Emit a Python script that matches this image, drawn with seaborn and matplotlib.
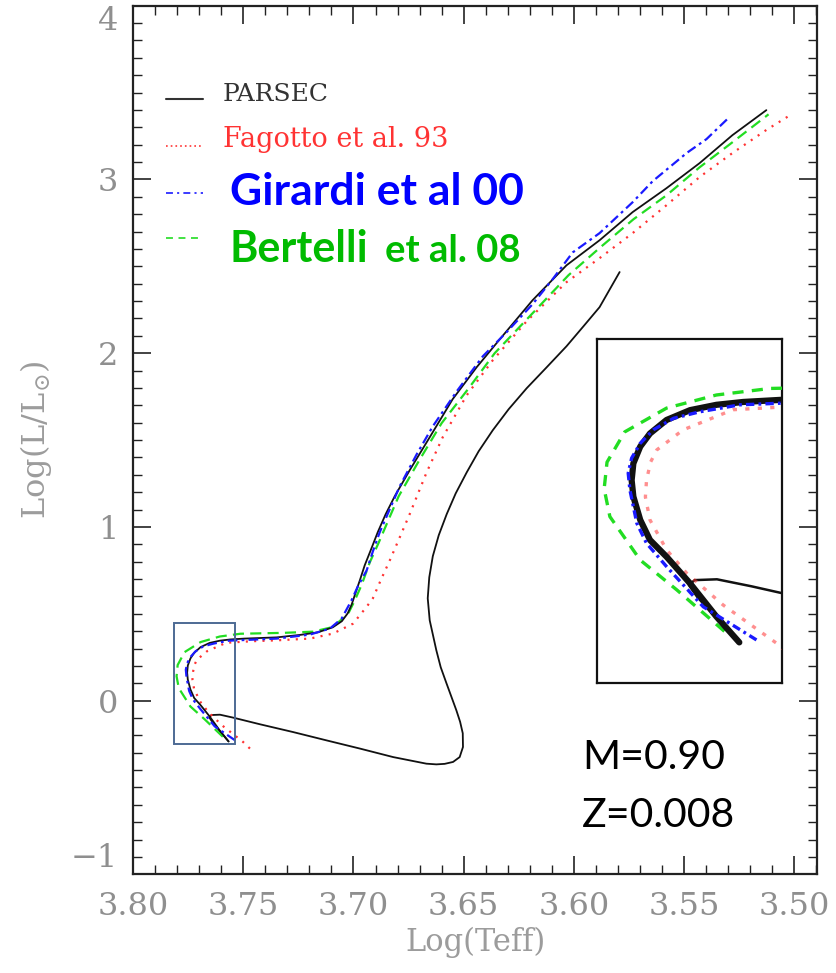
import matplotlib
matplotlib.use("Agg")
import matplotlib.pyplot as plt
from matplotlib.patches import Rectangle
from matplotlib.lines import Line2D
from matplotlib.ticker import FixedLocator, MultipleLocator
import seaborn as sns

# ---------------- data ----------------
# PARSEC main sequence + RGB (from ZAMS upward)
parsec_ms_logt = [3.7567, 3.7607, 3.7653, 3.7694, 3.7723, 3.7740, 3.7752, 3.7755, 3.7752,
                  3.7740, 3.7723, 3.7694, 3.7653, 3.7607, 3.7560, 3.7496, 3.7349, 3.7244,
                  3.7162, 3.7094, 3.7053, 3.7026, 3.7008, 3.6990, 3.6971, 3.6949, 3.6922,
                  3.6890, 3.6854, 3.6813, 3.6745, 3.6654, 3.6550, 3.6441, 3.6336, 3.6187,
                  3.6033, 3.5883, 3.5733, 3.5579, 3.5429, 3.5280, 3.5126]
parsec_ms_logl = [-0.235, -0.172, -0.091, -0.026, 0.015, 0.064, 0.121, 0.161, 0.202,
                  0.243, 0.275, 0.308, 0.332, 0.345, 0.352, 0.357, 0.364, 0.378,
                  0.393, 0.422, 0.457, 0.503, 0.554, 0.623, 0.693, 0.779, 0.865,
                  0.969, 1.073, 1.176, 1.326, 1.516, 1.735, 1.919, 2.080, 2.305,
                  2.506, 2.650, 2.812, 2.950, 3.094, 3.255, 3.399]
# PARSEC pre-main sequence (Hayashi + Henyey track down to the ZAMS)
parsec_pms_logt = [3.5792, 3.5883, 3.5956, 3.6033, 3.6123, 3.6214, 3.6296, 3.6368, 3.6432,
                   3.6486, 3.6536, 3.6577, 3.6613, 3.6640, 3.6656, 3.6663, 3.6654, 3.6624,
                   3.6604, 3.6578, 3.6533, 3.6516, 3.6504, 3.6503, 3.6518, 3.6548, 3.6586,
                   3.6624, 3.6669, 3.6820, 3.6971, 3.7122, 3.7274, 3.7425, 3.7546, 3.7606,
                   3.7645, 3.7655, 3.7640, 3.7607, 3.7567]
parsec_pms_logl = [2.467, 2.265, 2.155, 2.040, 1.919, 1.798, 1.677, 1.556, 1.435,
                   1.314, 1.193, 1.073, 0.952, 0.831, 0.710, 0.589, 0.462, 0.290,
                   0.192, 0.100, -0.056, -0.122, -0.188, -0.267, -0.325, -0.353, -0.364,
                   -0.367, -0.363, -0.325, -0.276, -0.229, -0.181, -0.136, -0.098, -0.081,
                   -0.083, -0.095, -0.125, -0.175, -0.235]
# Fagotto et al. 93
fagotto_logt = [3.7470, 3.7502, 3.7595, 3.7659, 3.7694, 3.7723, 3.7731, 3.7729, 3.7722,
                3.7711, 3.7665, 3.7578, 3.7460, 3.7349, 3.7198, 3.7093, 3.7002, 3.6941,
                3.6912, 3.6876, 3.6835, 3.6790, 3.6745, 3.6668, 3.6595, 3.6486, 3.6368,
                3.6214, 3.6033, 3.5883, 3.5733, 3.5579, 3.5429, 3.5280, 3.5126, 3.5017]
fagotto_logl = [-0.276, -0.237, -0.144, -0.066, -0.009, 0.064, 0.120, 0.161, 0.205,
                0.235, 0.284, 0.333, 0.342, 0.347, 0.357, 0.386, 0.443, 0.539,
                0.589, 0.694, 0.808, 0.940, 1.073, 1.314, 1.516, 1.758, 1.959,
                2.184, 2.409, 2.547, 2.691, 2.852, 3.014, 3.152, 3.285, 3.371]
# Girardi et al 00
girardi_logt = [3.7537, 3.7630, 3.7694, 3.7729, 3.7746, 3.7758, 3.7761, 3.7755, 3.7740,
                3.7717, 3.7682, 3.7636, 3.7566, 3.7349, 3.7198, 3.7107, 3.7054, 3.7009,
                3.6980, 3.6940, 3.6912, 3.6881, 3.6790, 3.6713, 3.6640, 3.6531, 3.6413,
                3.6305, 3.6187, 3.6096, 3.6005, 3.5883, 3.5733, 3.5642, 3.5488, 3.5398,
                3.5293]
girardi_logl = [-0.229, -0.148, -0.050, 0.007, 0.056, 0.137, 0.178, 0.215, 0.251,
                0.284, 0.312, 0.328, 0.345, 0.357, 0.380, 0.415, 0.472, 0.577,
                0.658, 0.750, 0.859, 0.969, 1.234, 1.418, 1.579, 1.781, 1.982,
                2.121, 2.282, 2.426, 2.580, 2.691, 2.869, 2.990, 3.152, 3.232,
                3.360]
# Bertelli et al. 08
bertelli_logt = [3.7593, 3.7676, 3.7740, 3.7793, 3.7803, 3.7798, 3.7767, 3.7694, 3.7607,
                 3.7513, 3.7319, 3.7183, 3.7093, 3.7024, 3.6994, 3.6962, 3.6926, 3.6885,
                 3.6838, 3.6795, 3.6704, 3.6600, 3.6477, 3.6359, 3.6178, 3.6024, 3.5879,
                 3.5729, 3.5579, 3.5429, 3.5280, 3.5116]
bertelli_logl = [-0.208, -0.107, -0.034, 0.072, 0.140, 0.205, 0.279, 0.337, 0.369,
                 0.385, 0.390, 0.397, 0.424, 0.501, 0.577, 0.670, 0.796, 0.911,
                 1.050, 1.176, 1.378, 1.597, 1.798, 2.000, 2.242, 2.449, 2.610,
                 2.771, 2.909, 3.070, 3.214, 3.375]

x_ticks = [3.80, 3.75, 3.70, 3.65, 3.60, 3.55, 3.50]
x_tick_labels = ["3.80", "3.75", "3.70", "3.65", "3.60", "3.55", "3.50"]
y_ticks = [-1, 0, 1, 2, 3, 4]
y_tick_labels = ["\u22121", "0", "1", "2", "3", "4"]
x_label = "Log(Teff)"
y_label = r"Log(L/L$_{\odot}$)"
legend_labels = ["PARSEC", "Fagotto et al. 93", "Girardi et al 00", "Bertelli", "et al. 08"]
note_lines = ["M=0.90", "Z=0.008"]
zoom_box = [3.7814, 3.7538, -0.248, 0.449]      # x_left, x_right, y_bottom, y_top
inset_xlim = [3.7815, 3.7493]
inset_ylim = [-0.335, 0.505]

# ---------------- style ----------------
sns.set_style("ticks")
plt.rcParams["font.family"] = ["DejaVu Serif"]
plt.rcParams["lines.scale_dashes"] = False
plt.rcParams["mathtext.fontset"] = "dejavuserif"

C_BLACK = "#111111"
C_RED = "#ff3333"
C_BLUE = "#1a1aff"
C_GREEN = "#22dd22"
TICK_GRAY = "#8f8f8f"

fig = plt.figure(figsize=(8.37, 9.73), dpi=100)
ax = fig.add_axes([0.1591, 0.1014, 0.8173, 0.8927])

def draw_tracks(a, ms_lw, pms_lw, col_lw, red_ls, blue_ls, green_ls, red_alpha=1.0):
    sns.lineplot(x=parsec_pms_logt, y=parsec_pms_logl, sort=False, estimator=None,
                 color=C_BLACK, linewidth=pms_lw, ax=a, legend=False, zorder=3)
    sns.lineplot(x=fagotto_logt, y=fagotto_logl, sort=False, estimator=None,
                 color=C_RED, linewidth=col_lw, linestyle=red_ls, alpha=red_alpha,
                 ax=a, legend=False, zorder=4)
    sns.lineplot(x=bertelli_logt, y=bertelli_logl, sort=False, estimator=None,
                 color=C_GREEN, linewidth=col_lw, linestyle=green_ls, ax=a,
                 legend=False, zorder=4)
    sns.lineplot(x=parsec_ms_logt, y=parsec_ms_logl, sort=False, estimator=None,
                 color=C_BLACK, linewidth=ms_lw, ax=a, legend=False, zorder=5,
                 solid_capstyle="round", solid_joinstyle="round")
    sns.lineplot(x=girardi_logt, y=girardi_logl, sort=False, estimator=None,
                 color=C_BLUE, linewidth=col_lw, linestyle=blue_ls, ax=a,
                 legend=False, zorder=6)

draw_tracks(ax, 1.3, 1.3, 1.6,
            (0, (1.5, 4.5)), (0, (7, 3, 2, 3)), (0, (8, 4.5)))

ax.set_xlim(3.80, 3.4895)
ax.set_ylim(-1.0, 4.0)
ax.xaxis.set_major_locator(FixedLocator(x_ticks))
ax.xaxis.set_minor_locator(MultipleLocator(0.01))
ax.yaxis.set_major_locator(FixedLocator(y_ticks))
ax.yaxis.set_minor_locator(MultipleLocator(0.1))
ax.set_xticklabels(x_tick_labels)
ax.set_yticklabels(y_tick_labels)

ax.tick_params(which="both", direction="in", top=True, right=True, colors="#222222",
               labelcolor=TICK_GRAY, labelsize=23)
ax.tick_params(which="major", length=13, width=1.2)
ax.tick_params(which="minor", length=6.5, width=1.0)
ax.tick_params(axis="x", which="major", pad=12)
ax.tick_params(axis="y", which="major", pad=11)
for s in ax.spines.values():
    s.set_linewidth(1.6)
    s.set_color("#222222")

ylabs = ax.get_yticklabels()
ylabs[-1].set_verticalalignment("top")
ylabs[0].set_verticalalignment("bottom")

ax.set_xlabel(x_label, fontsize=22, color="#9c9c9c")
ax.set_ylabel(y_label, fontsize=23, color="#9c9c9c")
ax.xaxis.set_label_coords(0.5, -0.060)
ax.xaxis.label.set_verticalalignment("top")
ax.yaxis.set_label_coords(-0.142, 0.5)
ax.yaxis.label.set_verticalalignment("center")

# zoom box
ax.add_patch(Rectangle((zoom_box[0], zoom_box[2]), zoom_box[1] - zoom_box[0],
                       zoom_box[3] - zoom_box[2], fill=False, edgecolor="#4d6a94",
                       linewidth=1.4, zorder=7))

# legend (manual)
key_x = [0.048, 0.102]
def key(y, **kw):
    ax.add_line(Line2D(key_x, [y, y], transform=ax.transAxes, **kw))
key(0.8922, color="#333333", linewidth=1.5)
key(0.8385, color=C_RED, linewidth=1.2, linestyle=(0, (1.2, 2.2)))
key(0.7847, color=C_BLUE, linewidth=1.2, linestyle=(0, (5, 3, 1.5, 3)))
key(0.7326, color=C_GREEN, linewidth=1.2, linestyle=(0, (5, 4)))

ax.text(0.1313, 0.8903, legend_labels[0], transform=ax.transAxes, fontsize=18,
        color="#333333", va="baseline", ha="left", family="DejaVu Serif")
ax.text(0.1313, 0.8373, legend_labels[1], transform=ax.transAxes, fontsize=19.5,
        color=C_RED, va="baseline", ha="left", family="DejaVu Serif")
ax.text(0.1415, 0.7706, legend_labels[2], transform=ax.transAxes, fontsize=32,
        color="#0000ff", va="baseline", ha="left", family="Lato", fontweight="bold")
ax.text(0.1415, 0.7053, legend_labels[3], transform=ax.transAxes, fontsize=31,
        color="#00bb00", va="baseline", ha="left", family="Lato", fontweight="bold")
ax.text(0.3680, 0.7053, legend_labels[4], transform=ax.transAxes, fontsize=27.5,
        color="#00bb00", va="baseline", ha="left", family="Lato", fontweight="bold")

ax.text(0.6569, 0.1209, note_lines[0], transform=ax.transAxes, fontsize=29.5,
        color="black", va="baseline", ha="left", family="Lato")
ax.text(0.6556, 0.0541, note_lines[1], transform=ax.transAxes, fontsize=29.5,
        color="black", va="baseline", ha="left", family="Lato")

# inset (magnified view of the zoom box)
axi = fig.add_axes([0.7136, 0.2977, 0.2203, 0.3536])
draw_tracks(axi, 4.5, 1.8, 2.4,
            (0, (3, 6)), (0, (6, 3, 2, 3)), (0, (8, 6)), red_alpha=0.55)
axi.set_xlim(*inset_xlim)
axi.set_ylim(*inset_ylim)
axi.set_xticks([])
axi.set_yticks([])
axi.set_xlabel("")
axi.set_ylabel("")
for s in axi.spines.values():
    s.set_visible(True)
    s.set_linewidth(1.6)
    s.set_color("#111111")

fig.savefig("out.png", dpi=100)
